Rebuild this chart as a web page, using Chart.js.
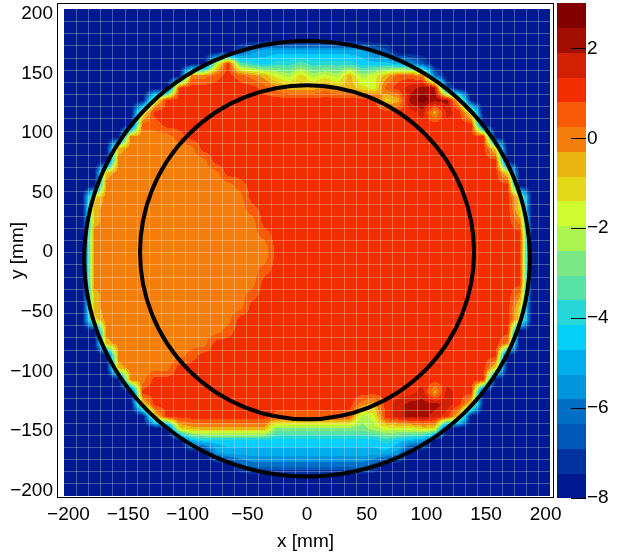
<!DOCTYPE html>
<html>
<head>
<meta charset="utf-8">
<script src="https://cdn.jsdelivr.net/npm/chart.js@4.4.1/dist/chart.umd.min.js"></script>
<style>
  html, body { margin: 0; padding: 0; background: #fff; }
  canvas { display: block; }
</style>
</head>
<body>
<canvas id="chart" width="620" height="556"></canvas>
<script>
// axis ticks
const X_TICKS = [-200, -150, -100, -50, 0, 50, 100, 150, 200];
const Y_TICKS = [-200, -150, -100, -50, 0, 50, 100, 150, 200];
const Z_TICKS = [-8, -6, -4, -2, 0, 2];

// z range of the palette, 20 contour levels
const Z_MIN = -8;
const Z_MAX = 3.01;
const N_LEVELS = 20;

// histogram: 40 x 40 bins from -204 to 204 mm
const HIST_MIN = -204;
const HIST_MAX = 204;
const N_BINS = 40;

// value read for each level code (band centres), '.' = empty bin
const LEVEL = {
  '.': -8, a: -7.17, b: -6.62, c: -6.07, d: -5.52, e: -4.97, f: -4.42, g: -3.87,
  h: -3.32, i: -2.77, j: -2.22, k: -1.67, l: -1.12, m: -0.57, n: -0.02, o: 0.53,
  p: 1.08, q: 1.63, r: 2.18, s: 2.73
};

// bin contents, top row (y = +199) first, run-length coded: "12n" = 12 x 'n'
const ROWS = [
  "40.",
  "40.",
  "40.",
  "14. b d 9e c b 13.",
  "12. j p h g f 2g h 4g 3f e d b 10.",
  "10. 2n o p o n m k j l j k j m j k m 2o n c 9.",
  "9. 7p o n 3m n 2m l k o p q r r b 8.",
  "7. k 18p l m r s r r l 7.",
  "6. k 22p q m q p k 6.",
  "6. 2o 26p 6.",
  "5. 4n o 25p 5.",
  "4. m 6n 24p l 4.",
  "4. 8n 24p 4.",
  "3. m 9n 23p l 3.",
  "3. 11n o 22p 3.",
  "2. l 12n 22p l 2.",
  "2. m 12n o 21p l 2.",
  "2. m 13n 21p n 2.",
  "2. 14n o 21p 2.",
  "2. 15n 21p 2.",
  "2. 15n 21p 2.",
  "2. 14n o 21p 2.",
  "2. 14n 22p 2.",
  "2. m 12n o 21p n 2.",
  "2. m 12n 22p l 2.",
  "2. l 11n 23p l 2.",
  "3. 10n o 23p 3.",
  "3. m 8n 24p n 3.",
  "4. 6n o 25p 4.",
  "4. m 4n 26p l 4.",
  "5. 2n 28p 5.",
  "6. 23p q m q 2p 6.",
  "6. l 17p n m p q 3r q p l 6.",
  "7. l 9p 7o j k p q 2r q p l 7.",
  "9. l 7m 8i j 3k 2l 9.",
  "10. e 15f g f e d 10.",
  "12. d 14e d 12.",
  "14. b 10c b 14.",
  "40.",
  "40."
];

// overlaid circles [mm]
const CIRCLES = [
  { x: 0, y: 0, rx: 140, ry: 140 },
  { x: 0, y: -5.4, rx: 186.7, ry: 182.5 }
];

const PALETTE = [
  '#001991', '#0032a0', '#0057b7', '#006fc6', '#0095dc', '#00aeeb', '#06d0f9',
  '#27d7d8', '#59e2a5', '#7be983', '#adf450', '#cffc2e', '#e4d919', '#eab513',
  '#f37e0b', '#f95a06', '#f22e00', '#d22100', '#a20d00', '#820000'
];

const FONT = '"Liberation Sans", Arial, Helvetica, sans-serif';

const BIN_W = (HIST_MAX - HIST_MIN) / N_BINS;
const DZ = (Z_MAX - Z_MIN) / N_LEVELS;

function decodeRow(row) {
  var cells = [];
  row.trim().split(/\s+/).forEach(function (tok) {
    var m = tok.match(/^(\d*)(.)$/);
    var n = m[1] ? parseInt(m[1], 10) : 1;
    for (var q = 0; q < n; q++) cells.push(LEVEL[m[2]]);
  });
  while (cells.length < N_BINS) cells.push(Z_MIN);
  return cells.slice(0, N_BINS);
}
const zGrid = ROWS.map(decodeRow);

const paletteRgb = PALETTE.map(function (hex) {
  return [parseInt(hex.slice(1, 3), 16), parseInt(hex.slice(3, 5), 16), parseInt(hex.slice(5, 7), 16)];
});

function minus(v) {
  return String(v).replace('-', '\u2212');
}

function clamp(v, lo, hi) {
  return v < lo ? lo : (v > hi ? hi : v);
}

const contourPlugin = {
  id: 'contour',
  beforeDatasetsDraw: function (chart) {
    var ctx = chart.ctx, x = chart.scales.x, y = chart.scales.y;
    var left = Math.round(x.getPixelForValue(HIST_MIN));
    var right = Math.round(x.getPixelForValue(HIST_MAX));
    var top = Math.round(y.getPixelForValue(HIST_MAX));
    var bottom = Math.round(y.getPixelForValue(HIST_MIN));
    var w = right - left, h = bottom - top;
    var img = ctx.createImageData(w, h);

    // filled contours: linear interpolation between bin centres
    for (var py = 0; py < h; py++) {
      var fy = clamp((HIST_MAX - y.getValueForPixel(top + py + 0.5)) / BIN_W - 0.5, 0, N_BINS - 1);
      var j0 = Math.min(Math.floor(fy), N_BINS - 2), ty = fy - j0;
      var r0 = zGrid[j0], r1 = zGrid[j0 + 1];
      for (var px = 0; px < w; px++) {
        var fx = clamp((x.getValueForPixel(left + px + 0.5) - HIST_MIN) / BIN_W - 0.5, 0, N_BINS - 1);
        var i0 = Math.min(Math.floor(fx), N_BINS - 2), tx = fx - i0;
        var v = (r0[i0] * (1 - tx) + r0[i0 + 1] * tx) * (1 - ty) +
                (r1[i0] * (1 - tx) + r1[i0 + 1] * tx) * ty;
        var k = clamp(Math.floor((v - Z_MIN) / DZ), 0, N_LEVELS - 1);
        var c = paletteRgb[k], o = (py * w + px) * 4;
        img.data[o] = c[0]; img.data[o + 1] = c[1]; img.data[o + 2] = c[2]; img.data[o + 3] = 255;
      }
    }
    ctx.putImageData(img, left, top);

    ctx.save();
    // bin grid
    ctx.strokeStyle = 'rgba(255,255,255,0.28)';
    ctx.lineWidth = 1;
    ctx.beginPath();
    for (var b = 1; b < N_BINS; b++) {
      var gx = Math.round(x.getPixelForValue(HIST_MIN + b * BIN_W)) + 0.5;
      var gy = Math.round(y.getPixelForValue(HIST_MIN + b * BIN_W)) + 0.5;
      ctx.moveTo(gx, top); ctx.lineTo(gx, bottom);
      ctx.moveTo(left, gy); ctx.lineTo(right, gy);
    }
    ctx.stroke();

    // circles
    ctx.strokeStyle = '#000';
    ctx.lineWidth = 4;
    CIRCLES.forEach(function (c) {
      var cx = x.getPixelForValue(c.x), cy = y.getPixelForValue(c.y);
      var rx = Math.abs(x.getPixelForValue(c.x + c.rx) - cx);
      var ry = Math.abs(y.getPixelForValue(c.y + c.ry) - cy);
      ctx.beginPath();
      ctx.ellipse(cx, cy, rx, ry, 0, 0, 2 * Math.PI);
      ctx.stroke();
    });
    ctx.restore();
  },
  afterDraw: function (chart) {
    var ctx = chart.ctx, area = chart.chartArea, z = chart.scales.zbar;
    ctx.save();
    // frame
    ctx.strokeStyle = '#000';
    ctx.lineWidth = 1;
    ctx.strokeRect(area.left + 0.5, area.top + 0.5, area.right - area.left - 1, area.bottom - area.top - 1);

    // palette
    var barLeft = z.left + 3, barW = 29;
    for (var k = 0; k < N_LEVELS; k++) {
      var y0 = z.getPixelForValue(Z_MIN + k * DZ);
      var y1 = z.getPixelForValue(Z_MIN + (k + 1) * DZ);
      ctx.fillStyle = PALETTE[k];
      ctx.fillRect(barLeft, Math.floor(y1), barW, Math.ceil(y0) - Math.floor(y1));
    }
    ctx.strokeStyle = '#000';
    ctx.beginPath();
    Z_TICKS.forEach(function (v) {
      var ty = Math.round(z.getPixelForValue(v)) + 0.5;
      ctx.moveTo(barLeft + barW - 15, ty);
      ctx.lineTo(barLeft + barW, ty);
    });
    ctx.stroke();
    ctx.restore();
  }
};

function fixed(size, horizontal) {
  return function (s) {
    if (horizontal) s.height = size; else s.width = size;
    s.paddingTop = 0; s.paddingBottom = 0; s.paddingLeft = 0; s.paddingRight = 0;
  };
}

function tickSetter(list) {
  return function (s) {
    s.ticks = list.map(function (v) { return { value: v }; });
  };
}

const tickFont = { family: FONT, size: 19 };
const titleFont = { family: FONT, size: 19 };

new Chart(document.getElementById('chart'), {
  type: 'scatter',
  data: { datasets: [] },
  options: {
    responsive: false,
    animation: false,
    devicePixelRatio: 1,
    layout: { padding: { top: 3, left: 0, right: 0, bottom: 0 } },
    plugins: { legend: { display: false }, tooltip: { enabled: false } },
    scales: {
      x: {
        type: 'linear', min: -209.6, max: 207.0,
        afterBuildTicks: tickSetter(X_TICKS),
        afterFit: fixed(58, true),
        grid: { display: false, drawTicks: false },
        border: { display: false },
        ticks: { font: tickFont, color: '#000', padding: 5, maxRotation: 0, autoSkip: false, callback: minus },
        title: { display: true, text: 'x [mm]', font: titleFont, color: '#000', padding: { top: 0, bottom: 3 } }
      },
      y: {
        type: 'linear', min: -206.0, max: 208.9,
        afterBuildTicks: tickSetter(Y_TICKS),
        afterFit: fixed(57, false),
        grid: { display: false, drawTicks: false },
        border: { display: false },
        ticks: { font: tickFont, color: '#000', padding: 4, autoSkip: false, callback: minus },
        title: { display: true, text: 'y [mm]', font: titleFont, color: '#000', padding: { top: 6, bottom: 0 } }
      },
      zbar: {
        axis: 'y', type: 'linear', position: 'right', min: Z_MIN, max: Z_MAX,
        afterBuildTicks: tickSetter(Z_TICKS),
        afterFit: fixed(66, false),
        grid: { display: false, drawTicks: false },
        border: { display: false },
        ticks: { font: tickFont, color: '#000', padding: 33, autoSkip: false, callback: minus }
      }
    }
  },
  plugins: [contourPlugin]
});
</script>
</body>
</html>
